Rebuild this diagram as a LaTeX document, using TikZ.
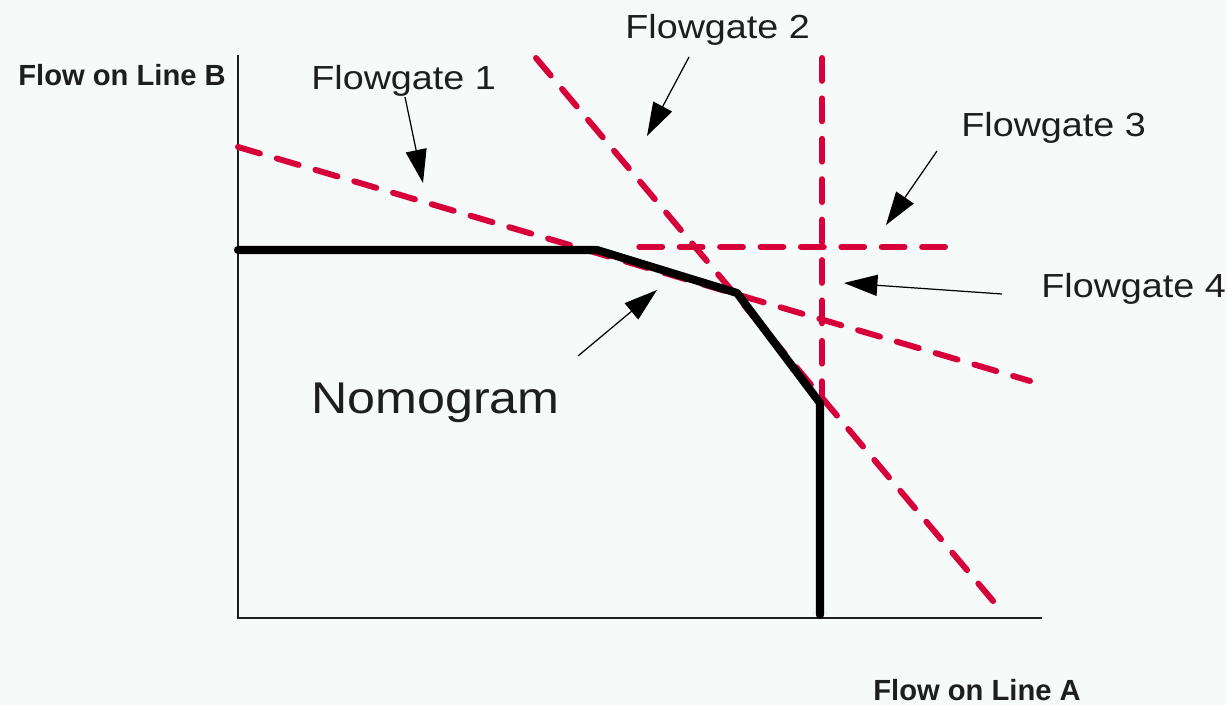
\documentclass[tikz,border=0pt]{standalone}
\usepackage{fontspec}
\setmainfont{Liberation Sans}
\newfontfamily\widesans[FakeStretch=1.13]{Liberation Sans}
\usetikzlibrary{arrows.meta}
\definecolor{bgc}{HTML}{F6FAF8}
\definecolor{fgred}{HTML}{D8003A}
\definecolor{txt}{HTML}{1E1E1E}
\begin{document}
\begin{tikzpicture}[x=0.02cm,y=-0.02cm,
  axis/.style={draw=txt,line width=1.3pt},
  gate/.style={draw=fgred,line width=3.4pt,dash pattern=on 13pt off 10pt,line cap=round},
  nomo/.style={draw=black,line width=4.6pt,line cap=round,line join=round},
  pointer/.style={draw=black,line width=0.7pt,-{Triangle[length=19pt,width=12pt]}},
  lbl/.style={text=txt,font=\widesans\fontsize{19}{22}\selectfont,inner sep=0pt,anchor=base west},
  axlbl/.style={text=txt,font=\fontsize{16.6}{19}\selectfont\bfseries,inner sep=0pt,anchor=base west}]
\fill[bgc] (0,0) rectangle (1227,705);
\useasboundingbox (0,0) rectangle (1227,705);
% axes
\coordinate (O) at (238,618);
\coordinate (ytop) at (238,55);
\coordinate (xend) at (1042,618);
\draw[axis] (ytop) -- (O) -- (xend);
% flowgates (red dashed)
\coordinate (f1a) at (238,147);
\coordinate (f1b) at (1030,381);
\coordinate (f2a) at (536,58);
\coordinate (f2b) at (1004,614);
\coordinate (f3a) at (822,58);
\coordinate (f3b) at (822,400);
\coordinate (f4a) at (625,247);
\coordinate (f4b) at (945,247);
\draw[gate] (f1a) -- (f1b);
\draw[gate] (f2a) -- (f2b);
\draw[gate] (f3a) -- (f3b);
\draw[gate] (f4b) -- (f4a);
% nomogram boundary
\coordinate (n1) at (238,250);
\coordinate (n2) at (597,250);
\coordinate (n3) at (737,293);
\coordinate (n4) at (820,403);
\coordinate (n5) at (820,615);
\draw[nomo] (n1) -- (n2) -- (n3) -- (n4) -- (n5);
% labels
\node[axlbl] (yl) at (18,86) {Flow on Line B};
\node[axlbl] (xl) at (873,700) {Flow on Line A};
\node[lbl] (g1) at (311,90) {Flowgate 1};
\node[lbl] (g2) at (625,39) {Flowgate 2};
\node[lbl] (g3) at (961,137) {Flowgate 3};
\node[lbl] (g4) at (1041,298) {Flowgate 4};
\node[text=txt,font=\widesans\fontsize{25.3}{30}\selectfont,inner sep=0pt,anchor=base west] (nm) at (311,414) {Nomogram};
% pointers
\coordinate (a1s) at (405,97);
\coordinate (a1e) at (423,183);
\coordinate (a2s) at (689,57);
\coordinate (a2e) at (647,136);
\coordinate (a3s) at (937,151);
\coordinate (a3e) at (886,225);
\coordinate (a4s) at (1002,294);
\coordinate (a4e) at (844,283);
\coordinate (a5s) at (578,356);
\coordinate (a5e) at (657,290);
\draw[pointer] (a1s) -- (a1e);
\draw[pointer] (a2s) -- (a2e);
\draw[pointer] (a3s) -- (a3e);
\draw[pointer] (a4s) -- (a4e);
\draw[pointer] (a5s) -- (a5e);
\end{tikzpicture}
\end{document}
